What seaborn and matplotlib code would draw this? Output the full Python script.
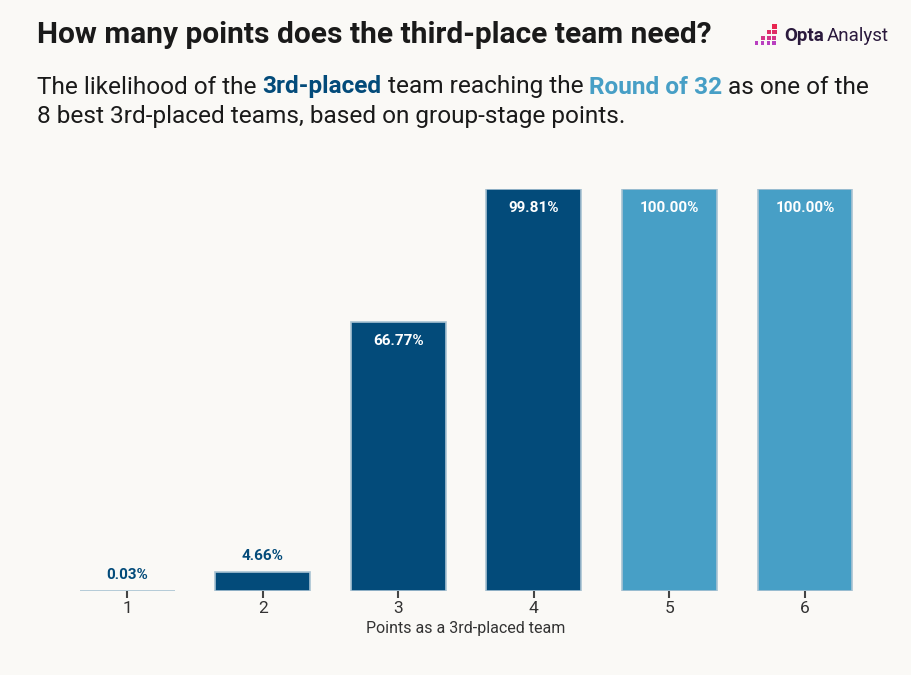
import numpy as np
import pandas as pd
import matplotlib.pyplot as plt
import seaborn as sns

# data
points = ["1", "2", "3", "4", "5", "6"]
likelihood = [0.03, 4.66, 66.77, 99.81, 100.00, 100.00]
certain = [False, False, False, False, True, True]

dark_blue = "#034b7a"
light_blue = "#479fc6"
bg = "#faf9f6"
ink = "#1a1a1a"

W, H = 912, 675

df = pd.DataFrame({"points": points, "pct": likelihood})

sns.set_theme(style="white")
plt.rcParams["font.family"] = ["Roboto", "DejaVu Sans"]

fig = plt.figure(figsize=(W / 100, H / 100), dpi=100, facecolor=bg)
ax = fig.add_axes([0.065, 0.1244, 0.892, 0.596])
ax.set_facecolor(bg)

pal = [light_blue if c else dark_blue for c in certain]
sns.barplot(
    data=df, x="points", y="pct", hue="points", palette=pal, legend=False,
    width=0.7, ax=ax, edgecolor="#a9c3d3", linewidth=1.2, saturation=1,
)

ax.set_ylim(0, 100)
ax.set_xlim(-0.5, 5.5)
ax.set_yticks([])
ax.set_ylabel("")
sns.despine(ax=ax, left=True, bottom=True)
ax.tick_params(axis="x", bottom=True, length=5, width=1.5, color="#444444",
               labelsize=12.5, labelcolor="#333333", pad=2)
ax.set_xlabel("Points as a 3rd-placed team", fontsize=11.5, color="#333333", labelpad=4)

# value labels
for i, v in enumerate(likelihood):
    if v >= 50:
        ax.annotate(f"{v:.2f}%", (i, v), xytext=(0, -19), textcoords="offset pixels",
                    ha="center", va="center", color="white", fontsize=11, fontweight="bold")
    else:
        ax.annotate(f"{v:.2f}%", (i, v), xytext=(0, 16), textcoords="offset pixels",
                    ha="center", va="center", color=dark_blue, fontsize=11, fontweight="bold")

# title
fig.text(37 / W, 1 - 35 / H, "How many points does the third-place team need?",
         fontsize=21.5, fontweight="bold", color=ink, va="center", ha="left")

# subtitle with coloured words
r = fig.canvas.get_renderer()


def text_width(s, **kw):
    t = fig.text(0, 0, s, **kw)
    w = t.get_window_extent(r).width
    t.remove()
    return w


sub_size = 17.6
space = text_width("a a", fontsize=sub_size) - text_width("aa", fontsize=sub_size)


def rich_line(x_px, y_px, pieces):
    x = x_px
    for txt, color, weight in pieces:
        t = fig.text(x / W, 1 - y_px / H, txt, fontsize=sub_size, color=color,
                     fontweight=weight, va="center", ha="left")
        x += t.get_window_extent(r).width + space


rich_line(37, 87, [
    ("The likelihood of the", ink, "normal"),
    ("3rd-placed", dark_blue, "bold"),
    ("team reaching the", ink, "normal"),
    ("Round of 32", light_blue, "bold"),
    ("as one of the", ink, "normal"),
])
rich_line(37, 117, [
    ("8 best 3rd-placed teams, based on group-stage points.", ink, "normal"),
])

# logo
icon_cols = ["#e8254f", "#e02d68", "#d43588", "#b93fc0"]
for row in range(4):
    sq = 5.0 - row * 0.5
    for col in range(3 - row, 4):
        cx = 755 + col * 5.8
        cy = 24 + row * 5.8
        fig.patches.append(plt.Rectangle((cx / W, 1 - (cy + sq) / H), sq / W, sq / H,
                                         transform=fig.transFigure, facecolor=icon_cols[row],
                                         edgecolor="none"))
t = fig.text(784 / W, 1 - 36 / H, "Opta", fontsize=13.5, fontweight="bold",
             color="#2b1a3d", va="center", ha="left")
x_end = t.get_window_extent(r).x1
fig.text((x_end + 3) / W, 1 - 36 / H, "Analyst", fontsize=13.5, color="#2b1a3d",
         va="center", ha="left")

fig.savefig("out.png", dpi=100, facecolor=bg)
